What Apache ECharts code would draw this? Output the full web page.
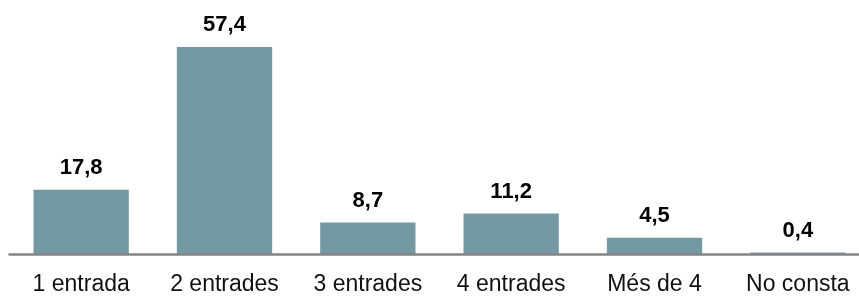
<!DOCTYPE html>
<html>
<head>
<meta charset="utf-8">
<script src="https://cdn.jsdelivr.net/npm/echarts@6/dist/echarts.min.js"></script>
<style>
  html, body { margin: 0; padding: 0; background: #fff; overflow: hidden; }
  #chart { width: 880px; height: 296px; }
</style>
</head>
<body>
<div id="chart"></div>
<script>
const categories = ['1 entrada', '2 entrades', '3 entrades', '4 entrades', 'Més de 4', 'No consta']
const values = [17.8, 57.4, 8.7, 11.2, 4.5, 0.4]

const chart = echarts.init(document.getElementById('chart'))

const option = {
  animation: false,
  grid: {
    left: 9.5,
    top: 37.6,
    width: 860,
    height: 218.4
  },
  xAxis: {
    type: 'category',
    data: categories,
    z: 5,
    axisTick: { show: false },
    axisLine: {
      show: true,
      lineStyle: { color: '#848484', width: 2.5 }
    },
    axisLabel: {
      color: '#111',
      fontFamily: 'Liberation Sans',
      fontSize: 23,
      margin: 19
    }
  },
  yAxis: {
    type: 'value',
    min: 0,
    max: 60,
    show: false,
    splitLine: { show: false }
  },
  series: [
    {
      type: 'bar',
      data: values,
      barCategoryGap: '33.5%',
      itemStyle: { color: '#7599a3' },
      label: {
        show: true,
        position: 'top',
        distance: 11,
        color: '#000',
        fontFamily: 'Liberation Sans',
        fontWeight: 'bold',
        fontSize: 22,
        formatter: (p) => p.value.toFixed(1).replace('.', ',')
      }
    }
  ]
}

chart.setOption(option)
</script>
</body>
</html>
